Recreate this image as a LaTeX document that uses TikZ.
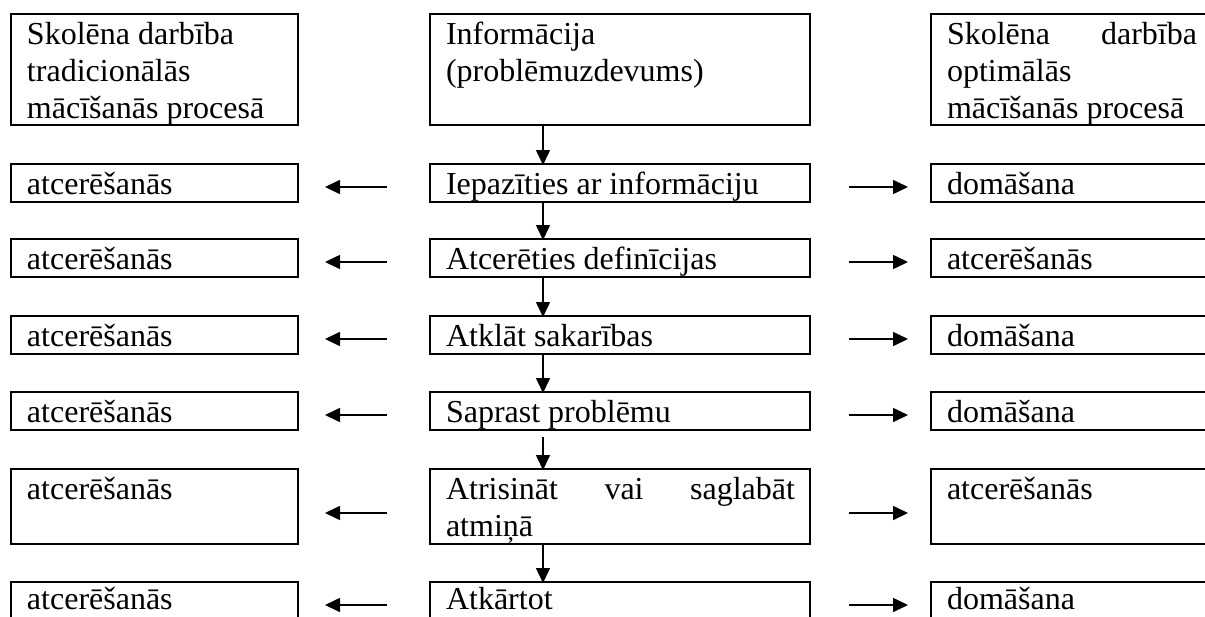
\documentclass[tikz,border=0pt]{standalone}
\usepackage{fontspec}
\setmainfont{Liberation Serif}
\usetikzlibrary{arrows.meta,calc}
\begin{document}
\begin{tikzpicture}[x=1pt,y=-1pt,
  box/.style={draw, line width=2pt, minimum height=38pt, anchor=north west, inner sep=0pt, outer sep=0pt},
  lbox/.style={box, minimum width=287pt},
  cbox/.style={box, minimum width=380pt},
  rbox/.style={box, minimum width=300pt},
  txt/.style={anchor=base west, inner sep=0pt, outer sep=0pt, font=\fontsize{32}{37}\selectfont},
  arr/.style={line width=1.6pt, -{Triangle[length=15pt,width=14pt]}}]
\clip (0,0) rectangle (1205,616);
\fill[white] (0,0) rectangle (1205,616);

% top row
\node[lbox, minimum height=111pt] (L0) at (11,14) {};
\node[cbox, minimum height=111pt] (C0) at (430,14) {};
\node[rbox, minimum height=111pt] (R0) at (931,14) {};
\node[txt] (tL0) at ($(L0.north west)+(16,30)$) {\vtop{\hbox{Skolēna darbība}\hbox{tradicionālās}\hbox{mācīšanās procesā}}};
\node[txt] (tC0) at ($(C0.north west)+(16,30)$) {\vtop{\hbox{Informācija}\hbox{(problēmuzdevums)}}};
\node[txt] (tR0) at ($(R0.north west)+(16,30)$) {\vtop{\hbox to 250pt{Skolēna\hfill darbība}\hbox{optimālās}\hbox{mācīšanās procesā}}};

% row 1
\node[lbox] (L1) at (11,164) {};
\node[cbox] (C1) at (430,164) {};
\node[rbox] (R1) at (931,164) {};
\node[txt] (tL1) at ($(L1.north west)+(16,30)$) {atcerēšanās};
\node[txt] (tC1) at ($(C1.north west)+(16,30)$) {Iepazīties ar informāciju};
\node[txt] (tR1) at ($(R1.north west)+(16,30)$) {domāšana};

% row 2
\node[lbox] (L2) at (11,239) {};
\node[cbox] (C2) at (430,239) {};
\node[rbox] (R2) at (931,239) {};
\node[txt] (tL2) at ($(L2.north west)+(16,30)$) {atcerēšanās};
\node[txt] (tC2) at ($(C2.north west)+(16,30)$) {Atcerēties definīcijas};
\node[txt] (tR2) at ($(R2.north west)+(16,30)$) {atcerēšanās};

% row 3
\node[lbox] (L3) at (11,316) {};
\node[cbox] (C3) at (430,316) {};
\node[rbox] (R3) at (931,316) {};
\node[txt] (tL3) at ($(L3.north west)+(16,30)$) {atcerēšanās};
\node[txt] (tC3) at ($(C3.north west)+(16,30)$) {Atklāt sakarības};
\node[txt] (tR3) at ($(R3.north west)+(16,30)$) {domāšana};

% row 4
\node[lbox] (L4) at (11,392) {};
\node[cbox] (C4) at (430,392) {};
\node[rbox] (R4) at (931,392) {};
\node[txt] (tL4) at ($(L4.north west)+(16,30)$) {atcerēšanās};
\node[txt] (tC4) at ($(C4.north west)+(16,30)$) {Saprast problēmu};
\node[txt] (tR4) at ($(R4.north west)+(16,30)$) {domāšana};

% row 5
\node[lbox, minimum height=75pt] (L5) at (11,469) {};
\node[cbox, minimum height=75pt] (C5) at (430,469) {};
\node[rbox, minimum height=75pt] (R5) at (931,469) {};
\node[txt] (tL5) at ($(L5.north west)+(16,30)$) {atcerēšanās};
\node[txt] (tC5) at ($(C5.north west)+(16,30)$) {\vtop{\hbox to 349pt{Atrisināt\hfill vai\hfill saglabāt}\hbox{atmiņā}}};
\node[txt] (tR5) at ($(R5.north west)+(16,30)$) {atcerēšanās};

% row 6
\node[lbox, minimum height=60pt] (L6) at (11,582) {};
\node[cbox, minimum height=60pt] (C6) at (430,582) {};
\node[rbox, minimum height=60pt] (R6) at (931,582) {};
\node[txt] (tL6) at ($(L6.north west)+(16,27)$) {atcerēšanās};
\node[txt] (tC6) at ($(C6.north west)+(16,27)$) {Atkārtot};
\node[txt] (tR6) at ($(R6.north west)+(16,27)$) {domāšana};

% vertical arrows
\draw[arr] ($(C0.south west)+(113,0)$) -- ($(C1.north west)+(113,1)$);
\draw[arr] ($(C1.south west)+(113,0)$) -- ($(C2.north west)+(113,1)$);
\draw[arr] ($(C2.south west)+(113,0)$) -- ($(C3.north west)+(113,1)$);
\draw[arr] ($(C3.south west)+(113,0)$) -- ($(C4.north west)+(113,1)$);
\draw[arr] ($(C4.south west)+(113,7)$) -- ($(C5.north west)+(113,1)$);
\draw[arr] ($(C5.south west)+(113,0)$) -- ($(C6.north west)+(113,1)$);

% side arrows
\foreach \i/\d in {1/23,2/23,3/23,4/23,5/44,6/23}{
  \draw[arr] ($(C\i.north west)+(-43,\d)$) -- ($(L\i.north east)+(27,\d)$);
  \draw[arr] ($(C\i.north east)+(39,\d)$) -- ($(R\i.north west)+(-23,\d)$);
}
\end{tikzpicture}
\end{document}
